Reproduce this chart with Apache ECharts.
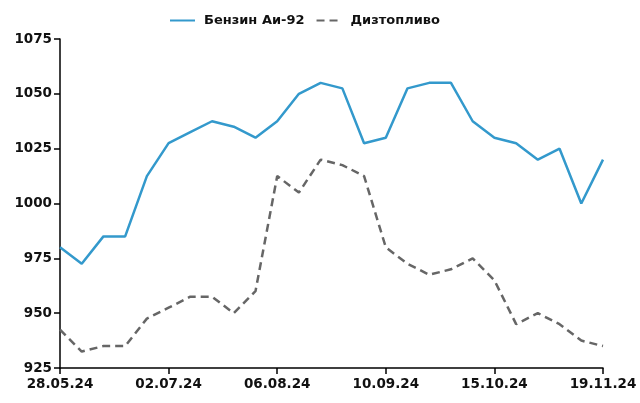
<!DOCTYPE html>
<html>
<head>
<meta charset="utf-8">
<script src="https://cdn.jsdelivr.net/npm/echarts@6/dist/echarts.min.js"></script>
<style>
    html, body {margin: 0; padding: 0; background: #fff;}
    #chart {width: 640px; height: 403px;}
</style>
</head>
<body>
<div id="chart"></div>
<script>
// даты (еженедельно)
var dates = ['28.05.24', '04.06.24', '11.06.24', '18.06.24', '25.06.24', '02.07.24', '09.07.24',
    '16.07.24', '23.07.24', '30.07.24', '06.08.24', '13.08.24', '20.08.24', '27.08.24', '03.09.24',
    '10.09.24', '17.09.24', '24.09.24', '01.10.24', '08.10.24', '15.10.24', '22.10.24', '29.10.24',
    '05.11.24', '12.11.24', '19.11.24'];
var benzin = [980, 972.5, 985, 985, 1012.5, 1027.5, 1032.5, 1037.5, 1035, 1030, 1037.5, 1050, 1055,
    1052.5, 1027.5, 1030, 1052.5, 1055, 1055, 1037.5, 1030, 1027.5, 1020, 1025, 1000, 1020];
var diesel = [942.5, 932.5, 935, 935, 947.5, 952.5, 957.5, 957.5, 950, 960, 1012.5, 1005, 1020,
    1017.5, 1012.5, 980, 972.5, 967.5, 970, 975, 965, 945, 950, 945, 937.5, 935];
var yMin = 925, yMax = 1075, yStep = 25;

var chart = echarts.init(document.getElementById('chart'));
var font = 'DejaVu Sans';

chart.setOption({
    animation: false,
    textStyle: {fontFamily: font},
    legend: {
        top: 14,
        left: 169,
        padding: 0,
        itemWidth: 25,
        itemHeight: 14,
        itemGap: 11,
        itemStyle: {opacity: 0},
        textStyle: {
            fontFamily: font, fontSize: 13, fontWeight: 'bold', color: '#111',
            padding: [0, 0, 0, 4]
        },
        data: ['Бензин Аи-92', 'Дизтопливо']
    },
    grid: {left: 60, right: 37, top: 39, bottom: 35},
    xAxis: {
        type: 'category',
        data: dates,
        boundaryGap: false,
        axisLine: {lineStyle: {color: '#000', width: 1.5}},
        axisTick: {interval: 4, length: 6, lineStyle: {color: '#000', width: 1.5}},
        axisLabel: {
            interval: 4, margin: 9, color: '#111',
            fontFamily: font, fontSize: 13.5, fontWeight: 'bold'
        },
        splitLine: {show: false}
    },
    yAxis: {
        type: 'value',
        min: yMin, max: yMax, interval: yStep,
        axisLine: {show: true, lineStyle: {color: '#000', width: 1.5}},
        axisTick: {show: true, length: 6, lineStyle: {color: '#000', width: 1.5}},
        axisLabel: {
            margin: 8, color: '#111', fontFamily: font, fontSize: 13.5, fontWeight: 'bold',
            formatter: function (v) { return String(v); }
        },
        splitLine: {show: false}
    },
    series: [
        {
            name: 'Бензин Аи-92',
            type: 'line',
            data: benzin,
            symbol: 'none',
            color: '#3399cc',
            lineStyle: {width: 2.5, color: '#3399cc'}
        },
        {
            name: 'Дизтопливо',
            type: 'line',
            data: diesel,
            symbol: 'none',
            color: '#666666',
            lineStyle: {width: 2.5, color: '#666666', type: [8, 5]}
        }
    ]
});
</script>
</body>
</html>
